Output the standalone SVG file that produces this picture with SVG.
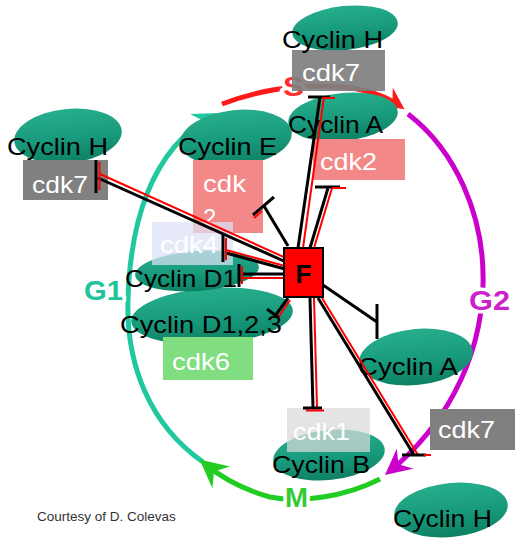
<svg xmlns="http://www.w3.org/2000/svg" width="520" height="543" viewBox="0 0 520 543">
<style>
.cy{fill:url(#cg)}
.lbl{font-family:"Liberation Sans",Arial,sans-serif;font-size:24px;fill:#000}
.cdk{font-family:"Liberation Sans",Arial,sans-serif;font-size:24px;fill:#fff}
.ph{font-family:"Liberation Sans",Arial,sans-serif;font-size:27px;font-weight:bold;paint-order:stroke;stroke:#fff;stroke-width:7px;stroke-linejoin:round}
.arc{fill:none;stroke-width:5}
.b{stroke:#000;stroke-width:3;fill:none}
.r{stroke:#f00;stroke-width:2;fill:none}
.grey{fill:#808080}
.pink{fill:#f28888}
</style>
<defs>
<linearGradient id="cg" x1="0" y1="0" x2="0" y2="1">
<stop offset="0" stop-color="#26ae8c"/>
<stop offset="0.55" stop-color="#189a7c"/>
<stop offset="1" stop-color="#0d8062"/>
</linearGradient>
<marker id="mt" viewBox="0 0 12 12" refX="9" refY="6" markerWidth="24" markerHeight="24" markerUnits="userSpaceOnUse" orient="auto"><path d="M0,0 L12,6 L0,12 L4,6 z" fill="#20c8a0"/></marker>
<marker id="mr" viewBox="0 0 12 12" refX="9" refY="6" markerWidth="22" markerHeight="22" markerUnits="userSpaceOnUse" orient="auto"><path d="M0,0 L12,6 L0,12 L4,6 z" fill="#ff1a1a"/></marker>
<marker id="mp" viewBox="0 0 12 12" refX="9" refY="6" markerWidth="26" markerHeight="26" markerUnits="userSpaceOnUse" orient="auto"><path d="M0,0 L12,6 L0,12 L4,6 z" fill="#cc00cc"/></marker>
<marker id="mg" viewBox="0 0 12 12" refX="9" refY="6" markerWidth="28" markerHeight="28" markerUnits="userSpaceOnUse" orient="auto"><path d="M0,0 L12,6 L0,12 L4,6 z" fill="#22cc22"/></marker>
</defs>
<rect width="520" height="543" fill="#fff"/>

<g id="cycle">
<path class="arc" stroke="#20c8a0" d="M 203,462 C 150,425 126,365 128,300 C 130,225 150,150 212,116" marker-end="url(#mt)"/>
<path class="arc" stroke="#ff1a1a" d="M 222,104 C 260,90 290,86 322,86 C 352,86 380,92 400,106" marker-end="url(#mr)"/>
<path class="arc" stroke="#cc00cc" d="M 408,114 C 455,150 485,215 483,285 C 481,365 440,430 390,471" marker-end="url(#mp)"/>
<path class="arc" stroke="#22cc22" d="M 380,479 C 345,497 300,503 270,497 C 245,490 222,478 205,464" marker-end="url(#mg)"/>
<text class="ph" x="283" y="96" fill="#ff3030" textLength="21" lengthAdjust="spacingAndGlyphs">S</text>
<text class="ph" x="84" y="300" fill="#20c39c" textLength="39" lengthAdjust="spacingAndGlyphs">G1</text>
<text class="ph" x="469" y="310" fill="#cc22cc" textLength="41" lengthAdjust="spacingAndGlyphs">G2</text>
<text class="ph" x="285" y="507" fill="#33cc33" textLength="23" lengthAdjust="spacingAndGlyphs">M</text>
</g>

<g id="cyclinH-top">
<ellipse class="cy" cx="345" cy="28" rx="53" ry="22" transform="rotate(-6 345 28)"/>
<rect class="grey" x="292" y="50" width="93" height="41" opacity="0.93"/>
<text class="lbl" x="282" y="48" textLength="101" lengthAdjust="spacingAndGlyphs">Cyclin H</text>
<text class="cdk" x="302" y="81" textLength="58" lengthAdjust="spacingAndGlyphs">cdk7</text>
</g>

<g id="cyclinH-left">
<ellipse class="cy" cx="68" cy="136" rx="54" ry="27" transform="rotate(-6 68 136)"/>
<rect class="grey" x="23" y="160" width="85" height="40"/>
<text class="lbl" x="7" y="155" textLength="101" lengthAdjust="spacingAndGlyphs">Cyclin H</text>
<text class="cdk" x="32" y="193" textLength="56" lengthAdjust="spacingAndGlyphs">cdk7</text>
</g>

<g id="cyclinA-top">
<ellipse class="cy" cx="343" cy="117" rx="55" ry="24" transform="rotate(-6 343 117)"/>
<rect class="pink" x="313" y="139" width="92" height="41"/>
<text class="lbl" x="288" y="133" textLength="95" lengthAdjust="spacingAndGlyphs">Cyclin A</text>
<text class="cdk" x="320" y="170" textLength="57" lengthAdjust="spacingAndGlyphs">cdk2</text>
</g>

<g id="cyclinE">
<ellipse class="cy" cx="236" cy="138" rx="56" ry="28" transform="rotate(-6 236 138)"/>
<rect class="pink" x="193" y="160" width="70" height="73"/>
<text class="lbl" x="178" y="155" textLength="99" lengthAdjust="spacingAndGlyphs">Cyclin E</text>
<text class="cdk" x="203" y="192" textLength="43" lengthAdjust="spacingAndGlyphs">cdk</text>
<text class="cdk" x="203" y="226">2</text>
</g>

<g id="cyclinD123">
<ellipse class="cy" cx="212" cy="316" rx="81" ry="28" transform="rotate(-4 212 316)"/>
<rect x="163" y="337" width="90" height="43" fill="#80de80"/>
<text class="lbl" x="120" y="333" textLength="162" lengthAdjust="spacingAndGlyphs">Cyclin D1,2,3</text>
<text class="cdk" x="172" y="370" textLength="58" lengthAdjust="spacingAndGlyphs">cdk6</text>
</g>

<g id="cyclinD1">
<ellipse class="cy" cx="197" cy="271" rx="62" ry="20" transform="rotate(-4 197 271)"/>
<rect x="152" y="222" width="81" height="43" fill="#dde1f5" opacity="0.72"/>
<text class="cdk" x="160" y="253" textLength="58" lengthAdjust="spacingAndGlyphs">cdk4</text>
<text class="lbl" x="125" y="287" textLength="112" lengthAdjust="spacingAndGlyphs">Cyclin D1</text>
</g>

<g id="cyclinA-low">
<ellipse class="cy" cx="416" cy="357" rx="57" ry="28" transform="rotate(-6 416 357)"/>
<text class="lbl" x="358" y="375" textLength="100" lengthAdjust="spacingAndGlyphs">Cyclin A</text>
</g>

<g id="cyclinB">
<ellipse class="cy" cx="329" cy="455" rx="56" ry="25" transform="rotate(-6 329 455)"/>
<rect x="287" y="408" width="83" height="44" fill="#dadada" opacity="0.72"/>
<text class="cdk" x="293" y="440" textLength="57" lengthAdjust="spacingAndGlyphs">cdk1</text>
<text class="lbl" x="272" y="473" textLength="98" lengthAdjust="spacingAndGlyphs">Cyclin B</text>
</g>

<g id="cdk7-br">
<rect class="grey" x="430" y="409" width="85" height="41"/>
<text class="cdk" x="438" y="438" textLength="57" lengthAdjust="spacingAndGlyphs">cdk7</text>
</g>

<g id="cyclinH-br">
<ellipse class="cy" cx="451" cy="510" rx="57" ry="27" transform="rotate(-6 451 510)"/>
<text class="lbl" x="393" y="527" textLength="99" lengthAdjust="spacingAndGlyphs">Cyclin H</text>
</g>

<g id="connectors">
<line class="r" x1="100" y1="174" x2="286" y2="258"/>
<line class="b" x1="98" y1="178" x2="286" y2="262"/>
<line class="b" x1="96" y1="160" x2="96" y2="193"/>
<line class="r" x1="99.5" y1="162" x2="99.5" y2="190"/>
<line class="b" x1="264" y1="206" x2="288" y2="246"/>
<line class="b" x1="253" y1="215" x2="274" y2="197"/>
<line class="r" x1="254" y1="218" x2="262" y2="211"/>
<line class="r" x1="324" y1="97" x2="303" y2="248"/>
<line class="b" x1="320" y1="97" x2="298" y2="248"/>
<line class="b" x1="308" y1="97" x2="330" y2="97"/>
<line class="r" x1="322" y1="98" x2="335" y2="98"/>
<line class="r" x1="332" y1="188" x2="314" y2="248"/>
<line class="b" x1="328" y1="188" x2="310" y2="248"/>
<line class="b" x1="315" y1="187" x2="340" y2="187"/>
<line class="r" x1="332" y1="188" x2="346" y2="188"/>
<line class="r" x1="226" y1="250" x2="285" y2="266"/>
<line class="b" x1="226" y1="253" x2="285" y2="269"/>
<line class="b" x1="223" y1="234" x2="223" y2="262"/>
<line class="r" x1="226" y1="238" x2="226" y2="260"/>
<line class="b" x1="241" y1="274" x2="285" y2="274"/>
<line class="r" x1="241" y1="278" x2="285" y2="278"/>
<line class="b" x1="239" y1="264" x2="239" y2="287"/>
<line class="r" x1="242" y1="266" x2="242" y2="284"/>
<line class="b" x1="288" y1="298" x2="275" y2="316"/>
<line class="r" x1="290" y1="300" x2="278" y2="318"/>
<line class="b" x1="267" y1="309" x2="279" y2="318"/>
<line class="b" x1="323" y1="285" x2="377" y2="322"/>
<line class="b" x1="377" y1="304" x2="377" y2="339"/>
<line class="r" x1="314" y1="298" x2="317" y2="408"/>
<line class="b" x1="310" y1="298" x2="313" y2="408"/>
<line class="b" x1="303" y1="408" x2="322" y2="408"/>
<line class="r" x1="306" y1="410.5" x2="324" y2="410.5"/>
<line class="r" x1="322" y1="298" x2="418" y2="455"/>
<line class="b" x1="318" y1="298" x2="414" y2="455"/>
<line class="b" x1="402" y1="455" x2="426" y2="455"/>
<line class="r" x1="424" y1="455" x2="431" y2="455"/>
</g>

<g id="F">
<rect x="284" y="248" width="39" height="49" fill="#ff0000" stroke="#000" stroke-width="2"/>
<text x="303.5" y="283" text-anchor="middle" font-family="Liberation Sans,Arial,sans-serif" font-size="26" font-weight="bold" fill="#000">F</text>
</g>

<text x="37" y="521" font-family="Liberation Sans,Arial,sans-serif" font-size="13.5" fill="#333">Courtesy of D. Colevas</text>
</svg>
